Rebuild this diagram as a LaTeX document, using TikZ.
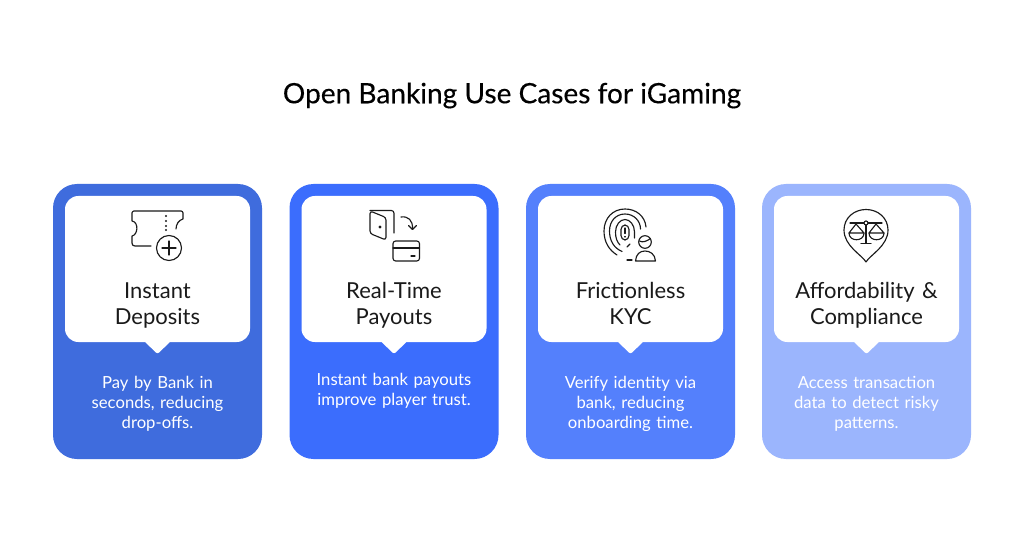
\documentclass[tikz,border=0pt]{standalone}
\usepackage{fontspec}
\setmainfont{Lato}
\newfontfamily\titlefont[FakeBold=0.3]{Lato}
\definecolor{cardA}{HTML}{3F6CDD}
\definecolor{cardB}{HTML}{3B6DFD}
\definecolor{cardC}{HTML}{5480FC}
\definecolor{cardD}{HTML}{9BB5FD}
\definecolor{ink}{HTML}{1A1A1A}
\tikzset{
  x=0.75pt,y=-0.75pt,
  cardbox/.style={fill=#1,rounded corners=18pt},
  headbox/.style={fill=white,rounded corners=10pt},
  headtext/.style={align=center,font=\fontsize{16.5pt}{19.6pt}\selectfont,text=ink,text width=150pt,inner sep=0pt,anchor=center},
  bodytext/.style={align=center,font=\fontsize{12.5pt}{15pt}\selectfont,text=white,text width=150pt,inner sep=0pt,anchor=center},
  icon/.style={draw=ink,line width=0.85pt,line cap=round,line join=round},
}
\newcommand{\usecard}[5]{%
  \fill[cardbox=#2] (#1,184) rectangle +(209,275);
  \fill[headbox] (#1+12,196) rectangle +(185,146);
  \fill[white,rounded corners=1.5pt] (#1+91,341) -- (#1+104.5,354) -- (#1+118,341) -- cycle;
  \node[headtext] (head#3) at (#1+104.5,306.5) {\strut #4\strut};
  \node[bodytext] (body#3) at (#1+104.5,#5) {\strut\bodycontent\strut};
}
\begin{document}
\begin{tikzpicture}
\useasboundingbox (0,0) rectangle (1024,538);
\fill[white] (0,0) rectangle (1024,538);
\node[inner sep=0pt,font=\titlefont\fontsize{21.05pt}{26pt}\selectfont,text=black] (title) at (512,95.5) {Open Banking Use Cases for iGaming};

\def\bodycontent{Pay by Bank in\\seconds, reducing\\drop-offs.}
\usecard{53}{cardA}{a}{Instant\\Deposits}{404.5}
\def\bodycontent{Instant bank payouts\\improve player trust.}
\usecard{289.5}{cardB}{b}{Real-Time\\Payouts}{391.5}
\def\bodycontent{Verify identity via\\bank, reducing\\onboarding time.}
\usecard{526}{cardC}{c}{Frictionless\\KYC}{404.5}
\def\bodycontent{Access transaction\\data to detect risky\\patterns.}
\usecard{762}{cardD}{d}{Affordability \&\\Compliance}{404.5}

% ticket icon
\draw[icon] (151,246) -- (135,246) .. controls (133,246) and (132,245) .. (132,243) -- (132,236)
  .. controls (138,235) and (139,222) .. (132,221) -- (132,213) .. controls (132,212) and (133,211) .. (134,211)
  -- (181,211) .. controls (182,211) and (183,212) .. (183,213) -- (183,219) .. controls (179,220) and (176,224) .. (176,229);
\draw[icon] (169,248) circle (12.5);
\draw[icon] (169,241) -- (169,255) (162,248) -- (176,248);
\foreach \yy in {216,221,226,230}{\fill[ink] (166,\yy) circle (1.1);}

% door + card icon
\draw[icon,rounded corners=2pt] (370,211) -- (386,217.5) -- (386,240) -- (370,233.5) -- cycle;
\draw[icon,rounded corners=2pt] (370,210.5) -- (394,210.5) -- (394,233);
\fill[ink] (380,227) circle (1.6);
\draw[icon] (401,217) .. controls (408,216) and (413,220) .. (412.5,229);
\draw[icon] (408.5,225.5) -- (412.5,229.5) -- (416.5,225.5);
\draw[icon,rounded corners=2pt] (393,241) rectangle (419.5,261);
\draw[icon] (393,248) -- (419.5,248);
\draw[icon] (411,256) -- (415,256);

% fingerprint + person icon
\begin{scope}[icon]
\draw[rounded corners=3.3pt] (621,225) rectangle (629,240);
\draw (625,228) -- (625,233.5) (625,236.5) -- (625,237);
\draw (620,245) .. controls (617,242) and (615.5,238) .. (615.5,232) .. controls (615.5,225) and (620,219.5) .. (625,219.5) .. controls (630,219.5) and (634.5,225) .. (634.5,232) -- (634.5,238);
\draw (630,244) -- (627,247);
\draw (622,251.5) .. controls (614,248) and (609.5,241) .. (609.5,231) .. controls (609.5,221) and (616,214) .. (625,214) .. controls (634,214) and (640.5,221) .. (640.5,229);
\draw (617,255) .. controls (609,250) and (604,242) .. (604,231) .. controls (604,218) and (613,209) .. (625,209) .. controls (636,209) and (645,216) .. (646,227);
\draw (627,260) -- (632,260);
\draw (645,242) circle (6.3);
\draw (639.5,241) .. controls (643,243) and (647,241) .. (650.5,238.5);
\draw (635.5,261) .. controls (636,254) and (640,251) .. (645,251) .. controls (650,251) and (655,254) .. (655.5,261) -- cycle;
\end{scope}

% scales icon
\begin{scope}[icon]
\draw (866,262) .. controls (862,255) and (844,246) .. (844,230) .. controls (844,218) and (854,209.5) .. (866,209.5)
  .. controls (878,209.5) and (888,218) .. (888,230) .. controls (888,246) and (870,255) .. (866,262);
\draw (850,223) -- (864,223) (868,223) -- (882,223);
\draw (866,223) circle (2);
\draw (866,225) -- (866,243) (861,243.5) -- (871,243.5);
\draw (849,233) -- (856,224) -- (864,233) -- cycle;
\draw (849,233) .. controls (849,242) and (864,242) .. (864,233);
\draw (869,233) -- (876,224) -- (884,233) -- cycle;
\draw (869,233) .. controls (869,242) and (884,242) .. (884,233);
\end{scope}
\end{tikzpicture}
\end{document}
